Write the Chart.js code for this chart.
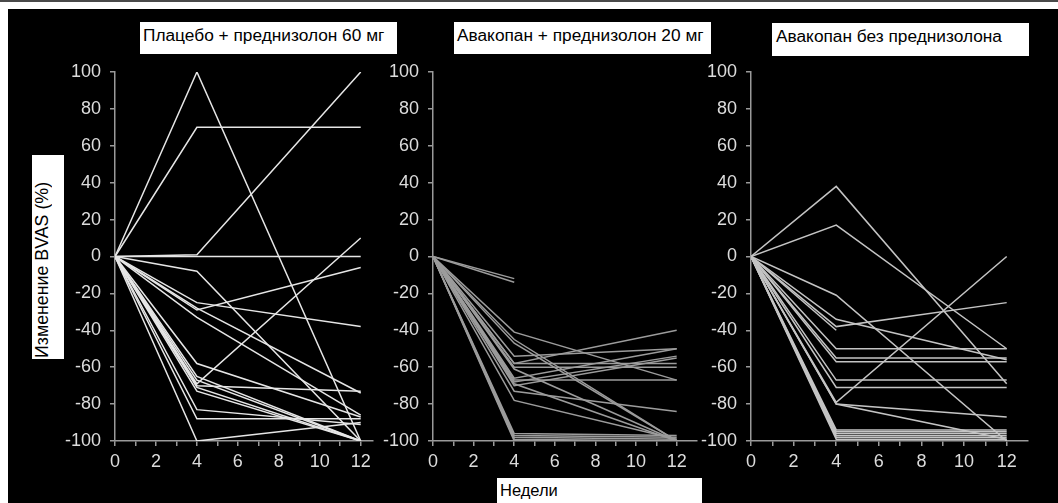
<!DOCTYPE html>
<html><head><meta charset="utf-8">
<script src="https://cdn.jsdelivr.net/npm/chart.js@4.4.0/dist/chart.umd.min.js"></script>
<style>
html,body{margin:0;padding:0;width:1058px;height:503px;overflow:hidden;background:#fff;}
#topline{position:absolute;left:0;top:0;width:1058px;height:2px;background:#4a4a4a;}
#bg{position:absolute;left:8px;top:9px;right:0;bottom:0;background:#000;}
.panel{position:absolute;top:0;height:503px;}
.box{position:absolute;background:#fff;color:#000;font-family:"Liberation Sans",Arial,sans-serif;font-size:17.3px;line-height:20px;white-space:nowrap;box-sizing:border-box;}
#ylab{font-size:17.8px;}
#xlab{font-size:16.5px;}
#ylab span{display:block;writing-mode:vertical-rl;transform:rotate(180deg);height:100%;padding-top:1px;box-sizing:border-box;}
</style></head>
<body>
<div id="topline"></div>
<div id="bg"></div>
<div class="panel" id="p1" style="left:55px;width:322px;"><canvas id="c1"></canvas></div>
<div class="panel" id="p2" style="left:373px;width:328px;"><canvas id="c2"></canvas></div>
<div class="panel" id="p3" style="left:691px;width:341px;"><canvas id="c3"></canvas></div>
<div class="box" id="t1" style="left:140px;top:22px;width:257px;height:32px;padding:3px 0 0 3px;">Плацебо + преднизолон 60 мг</div>
<div class="box" id="t2" style="left:454px;top:22px;width:257px;height:32px;padding:3px 0 0 3px;">Авакопан + преднизолон 20 мг</div>
<div class="box" id="t3" style="left:772px;top:23px;width:257px;height:33px;padding:3px 0 0 4px;">Авакопан без преднизолона</div>
<div class="box" id="ylab" style="left:32px;top:155px;width:32px;height:204px;"><span>Изменение BVAS (%)</span></div>
<div class="box" id="xlab" style="left:497px;top:478px;width:205px;height:25px;padding:2px 0 0 3px;">Недели</div>
<script>
const weeks = [0, 4, 12];
const yTicks = [-100, -80, -60, -40, -20, 0, 20, 40, 60, 80, 100];
const xTickLabels = [0, 2, 4, 6, 8, 10, 12];

// Плацебо + преднизолон 60 мг : values at weeks 0, 4, 12
const placeboSeries = [
  [0, 100, -100], [0, 70, 70], [0, 1, 100], [0, 0, 0], [0, -69, 10],
  [0, -29, -6], [0, -25, -38], [0, -8, -100], [0, -28, -74], [0, -33, -86],
  [0, -58, -87], [0, -65, -100], [0, -67, -100], [0, -70, -73], [0, -71, -100],
  [0, -73, -100], [0, -83, -91], [0, -88, -88], [0, -100, -90]
];
// Авакопан + преднизолон 20 мг
const avacopanPredSeries = [
  [0, -12, null], [0, -14, null], [0, -41, -67], [0, -45, -100], [0, -47, -100],
  [0, -54, -50], [0, -58, -58], [0, -58, -40], [0, -60, -60], [0, -61, -100],
  [0, -66, -50], [0, -67, -67], [0, -68, -54], [0, -70, -55], [0, -69, -100],
  [0, -73, -84], [0, -78, -99], [0, -96, -97], [0, -97, -98], [0, -98, -99],
  [0, -99, -100], [0, -100, -100]
];
// Авакопан без преднизолона
const avacopanOnlySeries = [
  [0, 38, -69], [0, 17, -50], [0, -21, -100], [0, -34, -56], [0, -38, -25],
  [0, -40, null], [0, -50, -50], [0, -55, -55], [0, -57, -57], [0, -67, -67],
  [0, -71, -71], [0, -79, 0], [0, -80, -87], [0, -80, -99], [0, -94, -94],
  [0, -95, -95], [0, -96, -96], [0, -97, -97], [0, -98, -98], [0, -99, -99]
];

const AXIS = '#9a9a9a';
const TICKFONT = {family: '"Liberation Sans Narrow","Liberation Sans",Arial,sans-serif', size: 18};

function makePanel(canvasId, series, color, xMax) {
  const datasets = series.map(s => ({
    data: weeks.map((w, i) => ({x: w, y: s[i]})),
    borderColor: color, borderWidth: 1.5, pointRadius: 0, tension: 0, fill: false, spanGaps: false
  }));
  return new Chart(document.getElementById(canvasId), {
    type: 'line',
    data: {datasets},
    options: {
      responsive: true, maintainAspectRatio: false, animation: false, events: [],
      layout: {padding: {top: 72, right: 4, left: 0, bottom: 0}},
      plugins: {legend: {display: false}, tooltip: {enabled: false}},
      scales: {
        x: {
          type: 'linear', min: 0, max: xMax,
          afterFit: s => { s.height = 62; },
          afterBuildTicks: s => { s.ticks = []; for (let v = 0; v <= 12; v++) s.ticks.push({value: v}); },
          ticks: {color: '#dcdcdc', font: TICKFONT, padding: 5, maxRotation: 0, autoSkip: false,
            callback: v => xTickLabels.includes(v) ? String(v) : ''},
          grid: {display: true, drawOnChartArea: false, drawTicks: true, tickLength: 5, color: AXIS, lineWidth: 1.5},
          border: {display: true, color: AXIS, width: 1.5}
        },
        y: {
          type: 'linear', min: -100, max: 100,
          afterFit: s => { s.width = 60; },
          afterBuildTicks: s => { s.ticks = yTicks.map(v => ({value: v})); },
          ticks: {color: '#dcdcdc', font: TICKFONT, padding: 9, autoSkip: false, callback: v => String(v)},
          grid: {display: true, drawOnChartArea: false, drawTicks: true, tickLength: 5, color: AXIS, lineWidth: 1.5},
          border: {display: true, color: AXIS, width: 1.5}
        }
      }
    }
  });
}

makePanel('c1', placeboSeries, '#e6e6e6', 12.6);
makePanel('c2', avacopanPredSeries, '#9c9c9c', 13);
makePanel('c3', avacopanOnlySeries, '#c4c4c4', 13);
</script>
</body></html>
